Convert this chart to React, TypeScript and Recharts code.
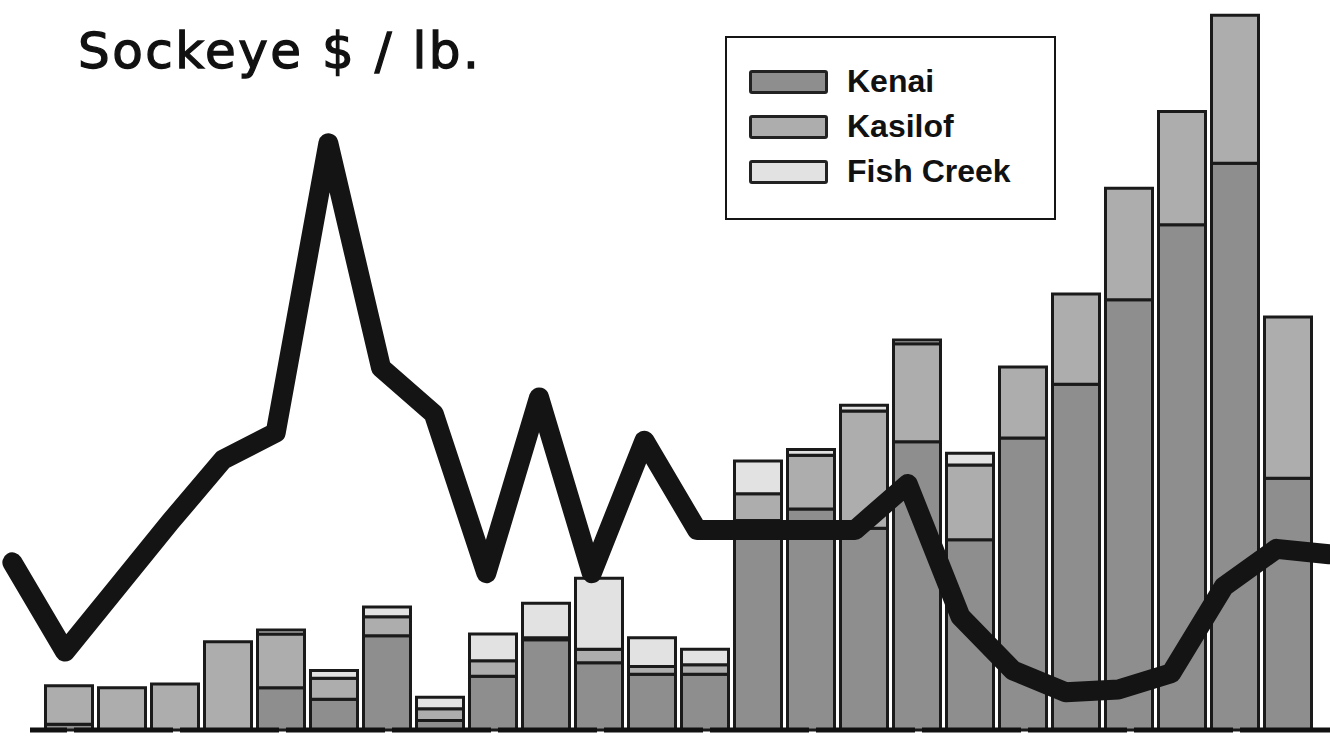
import { ComposedChart, Bar, Line, XAxis, YAxis, Legend } from 'recharts';

// personal-use sockeye harvest by river, thousands of fish
const years = [
  '1983', '1984', '1985', '1986', '1987', '1988', '1989', '1990', '1991', '1992', '1993', '1994',
  '1995', '1996', '1997', '1998', '1999', '2000', '2001', '2002', '2003', '2004', '2005', '2006',
];
const kenai = [3, 0, 0, 0, 22, 16, 49, 5, 28, 47, 35, 29, 29, 109, 115, 105, 150, 99, 152, 180, 224, 263, 295, 131];
const kasilof = [20, 22, 24, 46, 28, 11, 10, 6, 8, 1, 7, 4, 5, 14, 28, 61, 51, 39, 37, 47, 58, 59, 77, 84];
const fishCreek = [0, 0, 0, 0, 2, 4, 5, 6, 14, 18, 37, 15, 8, 17, 3, 3, 2, 6, 0, 0, 0, 0, 0, 0];

// sockeye price, $ per lb. (line runs one year past the bars on each side)
const priceYears = [
  1982, 1983, 1984, 1985, 1986, 1987, 1988, 1989, 1990, 1991, 1992, 1993, 1994,
  1995, 1996, 1997, 1998, 1999, 2000, 2001, 2002, 2003, 2004, 2005, 2006, 2007,
];
const price = [
  0.92, 0.59, 0.83, 1.07, 1.3, 1.4, 2.47, 1.64, 1.47, 0.88, 1.53, 0.88, 1.37,
  1.04, 1.04, 1.04, 1.04, 1.21, 0.72, 0.52, 0.44, 0.45, 0.51, 0.83, 0.97, 0.95,
];

const seriesNames = ['Kenai', 'Kasilof', 'Fish Creek'];

const harvestRows = years.map((y, i) => ({
  year: y,
  kenai: kenai[i],
  kasilof: kasilof[i],
  fishCreek: fishCreek[i],
}));

const priceRows = priceYears.map((y, i) => ({ year: y, price: price[i] }));

const renderLegend = (props: any) => {
  const items = (props.payload || [])
    .filter((p: any) => p.type !== 'none')
    .sort((a: any, b: any) => seriesNames.indexOf(a.value) - seriesNames.indexOf(b.value));
  return (
    <div
      style={{
        width: 331,
        height: 184,
        boxSizing: 'border-box',
        border: '2px solid #151515',
        background: '#fff',
        paddingTop: 21,
      }}
    >
      {items.map((it: any) => (
        <div key={it.value} style={{ display: 'flex', alignItems: 'center', height: 45 }}>
          <div
            style={{
              marginLeft: 22,
              width: 79,
              height: 24,
              boxSizing: 'border-box',
              border: '3px solid #222',
              borderRadius: 3,
              background: it.color,
            }}
          />
          <span
            style={{
              marginLeft: 19,
              fontFamily: '"Liberation Sans", Arial, sans-serif',
              fontWeight: 'bold',
              fontSize: 32,
              color: '#111',
              lineHeight: '45px',
            }}
          >
            {it.value}
          </span>
        </div>
      ))}
    </div>
  );
};

export default function App() {
  return (
    <div style={{ position: 'absolute', left: 0, top: 0, width: 1330, height: 737, background: '#fff' }}>
      <ComposedChart
        width={1330}
        height={737}
        data={harvestRows}
        margin={{ top: 0, right: 0, left: 30, bottom: 6 }}
      >
        <XAxis
          xAxisId="bars"
          dataKey="year"
          height={1}
          tick={false}
          tickLine={false}
          padding={{ left: 12.5, right: 15.5 }}
          axisLine={{ stroke: '#111', strokeWidth: 5, strokeDasharray: '99 7', strokeDashoffset: 62 }}
        />
        <XAxis
          xAxisId="line"
          dataKey="year"
          type="number"
          domain={[1982, 2007]}
          hide
          padding={{ left: -17.65, right: 0.9 }}
        />
        <YAxis yAxisId="n" domain={[0, 380]} hide />
        <YAxis yAxisId="p" domain={[0.3, 3.0]} hide />
        <Legend
          layout="horizontal"
          verticalAlign="middle"
          align="center"
          content={renderLegend}
          wrapperStyle={{ left: 725, top: 36, width: 331, height: 184 }}
        />
        <Bar xAxisId="bars" yAxisId="n" dataKey="kenai" name="Kenai" stackId="a" barSize={47}
          fill="#8e8e8e" stroke="#1a1a1a" strokeWidth={3} isAnimationActive={false} />
        <Bar xAxisId="bars" yAxisId="n" dataKey="kasilof" name="Kasilof" stackId="a" barSize={47}
          fill="#adadad" stroke="#1a1a1a" strokeWidth={3} isAnimationActive={false} />
        <Bar xAxisId="bars" yAxisId="n" dataKey="fishCreek" name="Fish Creek" stackId="a" barSize={47}
          fill="#e2e2e2" stroke="#1a1a1a" strokeWidth={3} isAnimationActive={false} />
        <Line
          xAxisId="line"
          yAxisId="p"
          data={priceRows}
          dataKey="price"
          legendType="none"
          type="linear"
          stroke="#141414"
          strokeWidth={20}
          strokeLinejoin="round"
          strokeLinecap="round"
          dot={false}
          activeDot={false}
          isAnimationActive={false}
        />
      </ComposedChart>
      <div
        style={{
          position: 'absolute',
          left: 78,
          top: 26,
          fontFamily: '"DejaVu Sans", sans-serif',
          fontSize: 50,
          lineHeight: '50px',
          letterSpacing: 2.5,
          WebkitTextStroke: '1.3px #111',
          color: '#111',
          whiteSpace: 'nowrap',
        }}
      >
        Sockeye $ / lb.
      </div>
    </div>
  );
}
